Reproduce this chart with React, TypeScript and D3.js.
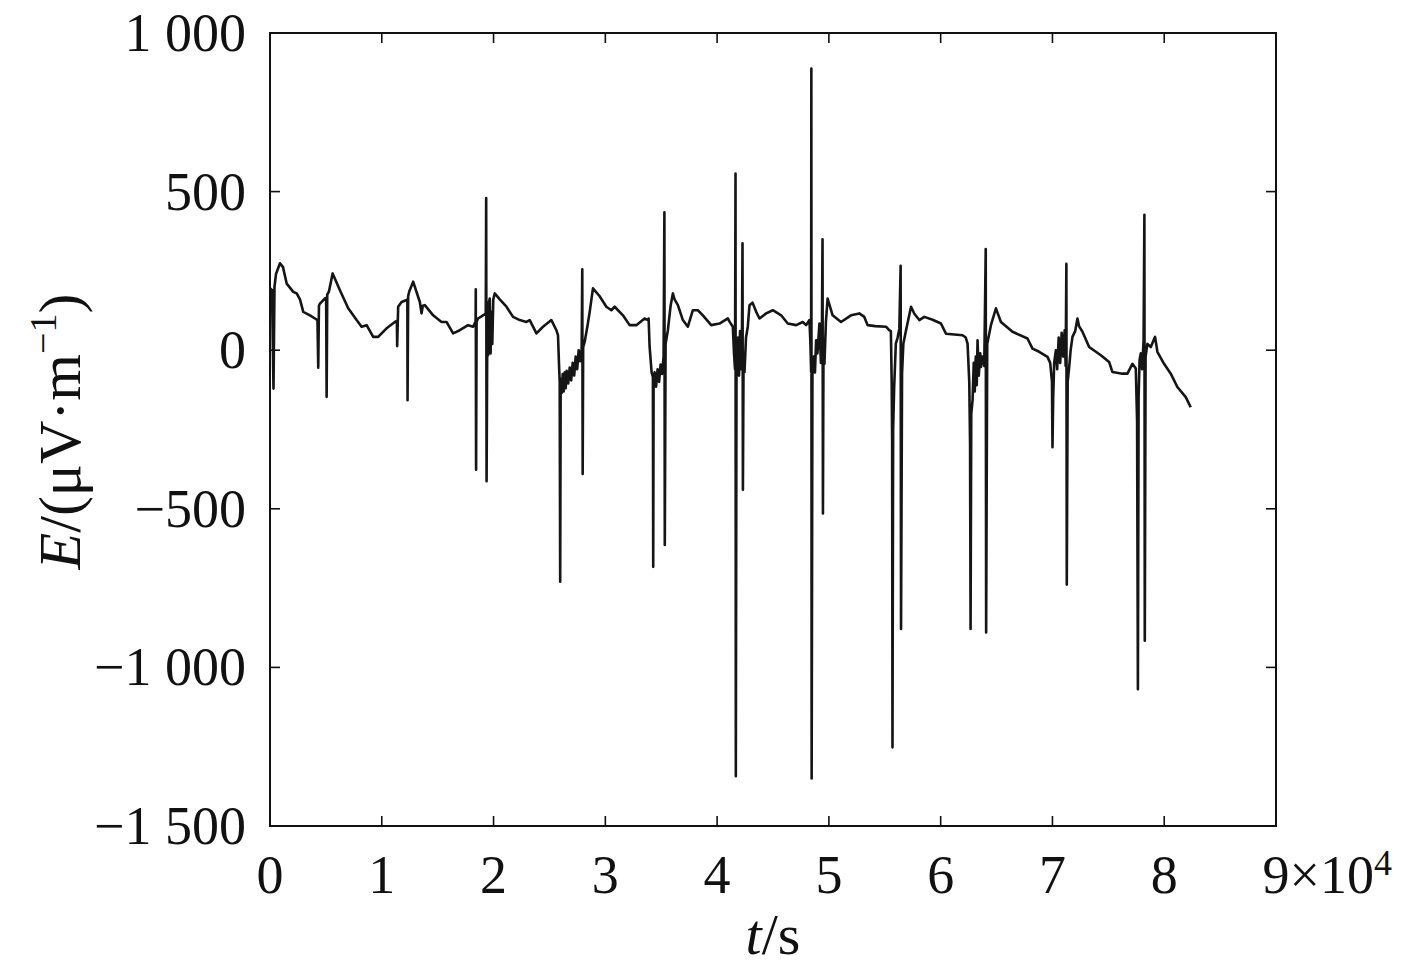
import React from "react";
import * as d3 from "d3";

const timeSec: number[] = [
  0,179,313,402,536,894,1162,1492,2082,2386,2681,2976,3575,4022,4245,4317,4379,4469,4915,5023,5067,5121,5273,5604,6256,6998,7748,8195,8642,9232,9679,10429,11171,11350,11377,11466,11770,12217,12288,12306,12360,12449,12807,13405,13557,13673,13852,14594,15345,15792,16381,16980,17722,18169,18392,18410,18437,18482,18616,19063,19304,19340,19376,19439,19511,19573,19662,19734,19796,19886,19975,20109,20555,21154,21744,22343,22941,23236,23835,24424,25175,25622,25765,25872,25917,25961,26006,26096,26185,26274,26364,26453,26543,26677,26811,26945,27079,27213,27347,27481,27615,27749,27883,27937,27972,28017,28151,28419,28598,28893,29492,30091,30538,30833,31575,32173,32772,33514,33809,33872,33961,34140,34256,34283,34319,34408,34542,34676,34810,34944,35078,35212,35284,35319,35391,35596,35838,36043,36195,36490,36937,37384,37831,38278,38725,39475,40217,40959,41111,41406,41513,41602,41647,41674,41736,41870,41960,42049,42138,42227,42272,42307,42361,42450,42585,42745,42898,43166,43497,43791,44390,44980,45731,46320,47071,47662,47965,48260,48350,48412,48430,48457,48528,48662,48752,48859,48975,49154,49288,49378,49431,49467,49512,49601,49735,49887,50334,51086,51979,52721,53168,53463,54157,55113,55391,55546,55618,55659,55689,55748,55837,55989,56150,56302,56419,56455,56544,56661,56902,57349,57644,58091,58537,59279,60030,60476,61960,62246,62406,62559,62630,62675,62737,62853,62960,63050,63139,63228,63300,63407,63541,63603,63719,63898,64032,64068,64166,64497,64944,65391,66428,67768,68215,68815,69557,69798,69959,70003,70066,70155,70307,70423,70557,70691,70826,70960,71094,71183,71246,71282,71362,71496,71630,71791,72032,72237,72390,72685,73283,74329,75071,75366,76260,76707,77154,77458,77573,77645,77707,77797,77904,78020,78154,78226,78261,78333,78494,78798,79182,79388,79986,80585,81175,81925,82372,
];

const fieldE: number[] = [
  195,190,-121,200,240,274,262,210,184,179,160,121,110,100,95,-55,140,147,163,165,-147,175,185,242,189,132,95,74,79,42,42,69,89,92,13,137,152,158,160,-158,170,184,216,152,116,140,142,110,89,89,53,63,79,74,90,192,-377,90,100,110,115,480,-413,60,-16,150,163,-10,120,20,160,179,160,137,105,95,89,95,53,74,95,63,47,-60,-100,-730,-90,-135,-75,-130,-70,-120,-65,-105,-55,-95,-40,-80,-20,-60,0,-35,5,255,-390,10,26,80,120,195,170,137,126,137,110,79,79,100,95,100,11,-70,-84,-683,-105,-70,-115,-60,-100,-45,-75,-20,435,-614,20,63,140,179,160,142,95,74,126,126,110,79,84,100,90,74,-10,-60,557,-1343,-40,40,-80,60,-60,70,337,-440,-60,-69,40,74,142,150,121,100,116,126,110,84,79,89,79,95,20,-69,888,-1350,-75,-20,-70,31,-10,84,-40,70,350,-515,-40,-43,90,163,110,89,110,116,105,79,76,74,63,60,-100,-284,-1252,-250,-120,21,40,68,266,-879,-74,20,63,137,115,95,105,96,84,52,47,40,21,-100,-292,-879,-200,-158,-40,-130,-20,-110,31,-80,-10,-53,-20,-50,319,-890,20,79,132,89,58,37,5,-5,-21,-40,-100,-306,-150,-40,0,-60,40,-40,55,-20,63,-50,272,-739,-100,-53,0,42,60,100,75,58,10,-16,-37,-69,-74,-74,-43,-58,-225,-1069,-150,-30,-10,-60,30,427,-916,-20,20,10,42,-5,-43,-74,-116,-148,-180,
];

const xTicks: number[] = [0, 10000, 20000, 30000, 40000, 50000, 60000, 70000, 80000, 90000];
const xTickLabels: string[] = ["0", "1", "2", "3", "4", "5", "6", "7", "8", "9"];
const yTicks: number[] = [1000, 500, 0, -500, -1000, -1500];
const yTickLabels: string[] = ["1 000", "500", "0", "\u2212500", "\u22121 000", "\u22121 500"];

const W = 1417;
const H = 967;
const M = { left: 270, right: 1276, top: 33, bottom: 826 };
const FONT = "'Liberation Serif', 'Times New Roman', 'DejaVu Serif', serif";

export default function App() {
  const x = d3.scaleLinear().domain([0, 90000]).range([M.left, M.right]);
  const y = d3.scaleLinear().domain([-1500, 1000]).range([M.bottom, M.top]);
  const n = Math.min(timeSec.length, fieldE.length);
  const pts: [number, number][] = [];
  for (let i = 0; i < n; i++) pts.push([timeSec[i], fieldE[i]]);
  const line = d3
    .line<[number, number]>()
    .x((d) => x(d[0]))
    .y((d) => y(d[1]));
  const tl = 10;
  return (
    <svg
      width={W}
      height={H}
      viewBox={`0 0 ${W} ${H}`}
      style={{ position: "absolute", left: 0, top: 0, background: "#fff" }}
      fontFamily={FONT}
    >
      <rect x={0} y={0} width={W} height={H} fill="#fff" />
      <path d={line(pts) || ""} fill="none" stroke="#151515" strokeWidth={2.6} strokeLinejoin="round" />
      <rect
        x={M.left}
        y={M.top}
        width={M.right - M.left}
        height={M.bottom - M.top}
        fill="none"
        stroke="#111"
        strokeWidth={2}
      />
      {xTicks.map((t, i) => (
        <g key={"xt" + i}>
          <line x1={x(t)} x2={x(t)} y1={M.bottom} y2={M.bottom - tl} stroke="#111" strokeWidth={1.6} />
          <line x1={x(t)} x2={x(t)} y1={M.top} y2={M.top + tl} stroke="#111" strokeWidth={1.6} />
          {i < xTicks.length - 1 ? (
            <text x={x(t)} y={893} fontSize={54} textAnchor="middle" fill="#111">
              {xTickLabels[i]}
            </text>
          ) : (
            <text x={x(t) - 13.5} y={893} fontSize={54} textAnchor="start" fill="#111">
              {xTickLabels[i]}
              {"\u00d710"}
              <tspan fontSize={36} dy={-18}>4</tspan>
            </text>
          )}
        </g>
      ))}
      {yTicks.map((v, i) => (
        <g key={"yt" + i}>
          <line x1={M.left} x2={M.left + tl} y1={y(v)} y2={y(v)} stroke="#111" strokeWidth={1.6} />
          <line x1={M.right} x2={M.right - tl} y1={y(v)} y2={y(v)} stroke="#111" strokeWidth={1.6} />
          <text x={246} y={y(v) + 18} fontSize={54} textAnchor="end" fill="#111">
            {yTickLabels[i]}
          </text>
        </g>
      ))}
      <text x={(M.left + M.right) / 2} y={954} fontSize={58} textAnchor="middle" fill="#111">
        <tspan fontStyle="italic">t</tspan>/s
      </text>
      <text
        transform={`translate(80, ${(M.top + M.bottom) / 2 + 2}) rotate(-90)`}
        fontSize={60}
        textAnchor="middle"
        fill="#111"
      >
        <tspan fontStyle="italic">E</tspan>/(μV·m
        <tspan fontSize={38} dy={-24}>−1</tspan>
        <tspan dy={24}>)</tspan>
      </text>
    </svg>
  );
}
